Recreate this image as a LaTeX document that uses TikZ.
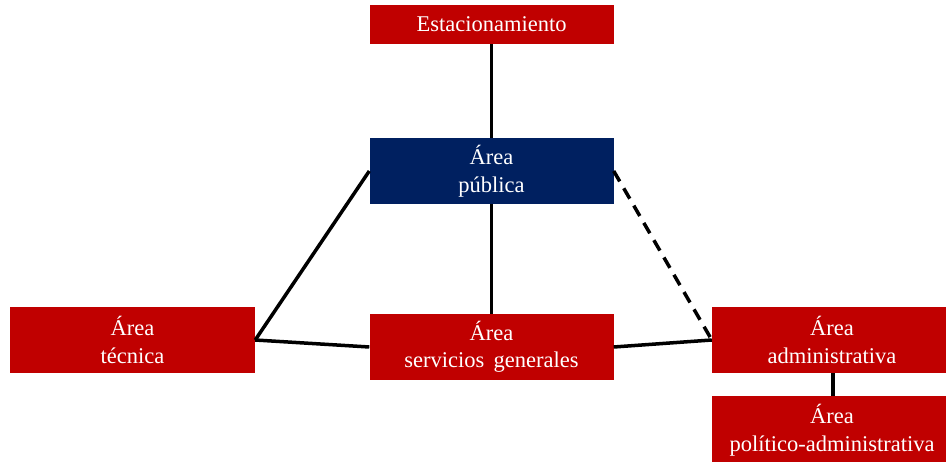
\documentclass[tikz,border=0pt]{standalone}
\usepackage{fontspec}
\setmainfont{Liberation Serif}
\usetikzlibrary{positioning}

\definecolor{areared}{HTML}{C00000}
\definecolor{areablue}{HTML}{002060}

\begin{document}
\begin{tikzpicture}[x=1pt, y=-1pt,
    areabox/.style={fill=areared, text=white, align=center, inner sep=0pt,
      font=\fontsize{22.5}{27.5}\selectfont},
    link/.style={line width=3.5pt, black}]
  \useasboundingbox (0,0) rectangle (946,462);

  % Boxes
  \node[areabox, minimum width=244pt, minimum height=39pt] (est) at (491.5,24.5) {Estacionamiento};
  \node[areabox, fill=areablue, minimum width=244pt, minimum height=66pt] (pub) at (491.5,171) {Área\\pública};
  \node[areabox, minimum width=245pt, minimum height=66pt] (tec) at (132.5,340) {Área\\técnica};
  \node[areabox, minimum width=244pt, minimum height=66pt] (serv) at (491.5,347) {Área\\servicios\, generales};
  \node[areabox, minimum width=240pt, minimum height=66pt] (adm) at (832,340) {Área\\administrativa};
  \node[areabox, minimum width=240pt, minimum height=68pt] (pol) at (832,430) {Área\\político-administrativa};

  % Links
  \draw[link] (est.south) -- (pub.north);
  \draw[link] (pub.south) -- (serv.north);
  \draw[link] (pub.west) -- (tec.east);
  \draw[link] (tec.east) -- (serv.west);
  \draw[link] (serv.east) -- (adm.west);
  \draw[link, dash pattern=on 12pt off 8pt] (pub.east) -- (adm.west);
  \draw[link] (adm.south -| 833,0) -- (pol.north -| 833,0);
\end{tikzpicture}
\end{document}
